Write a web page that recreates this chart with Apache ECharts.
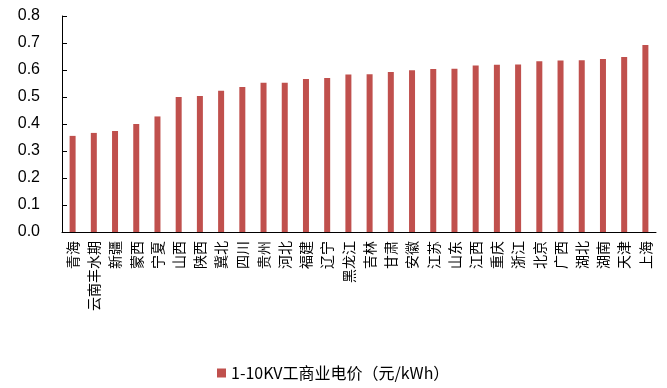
<!DOCTYPE html>
<html>
<head>
<meta charset="utf-8">
<script src="https://cdn.jsdelivr.net/npm/echarts@6/dist/echarts.min.js"></script>
<style>html,body{margin:0;padding:0;background:#fff}#c{width:667px;height:388px}</style>
</head>
<body>
<div id="c"></div>
<script>
var categories = ['青海','云南丰水期','新疆','蒙西','宁夏','山西','陕西','冀北','四川','贵州','河北','福建','辽宁','黑龙江','吉林','甘肃','安徽','江苏','山东','江西','重庆','浙江','北京','广西','湖北','湖南','天津','上海'];
var prices = [0.356,0.367,0.374,0.400,0.428,0.500,0.504,0.523,0.537,0.553,0.553,0.567,0.570,0.583,0.584,0.593,0.599,0.604,0.605,0.617,0.619,0.620,0.632,0.635,0.636,0.641,0.648,0.693];
var seriesName = '1-10KV工商业电价（元/kWh）';
var yTicks = [0,0.1,0.2,0.3,0.4,0.5,0.6,0.7,0.8];

var chart = echarts.init(document.getElementById('c'), null, {renderer:'canvas'});
chart.setOption({
  animation: false,
  backgroundColor: '#fff',
  grid: {left: 62, right: 11, top: 16, bottom: 156, containLabel: false},
  legend: {
    data: [seriesName], bottom: 2, left: 212,
    itemWidth: 9, itemHeight: 9, itemGap: 6, icon: 'rect',
    textStyle: {fontSize: 16, color: '#000', fontFamily: 'Noto Sans CJK SC'}
  },
  xAxis: {
    type: 'category', data: categories,
    axisLine: {lineStyle: {color: '#000', width: 1}},
    axisTick: {show: false},
    axisLabel: {rotate: 90, interval: 0, fontSize: 14, color: '#000', margin: 9, fontFamily: 'Noto Sans CJK SC'}
  },
  yAxis: {
    type: 'value', min: yTicks[0], max: yTicks[yTicks.length-1], interval: 0.1,
    splitLine: {show: false},
    axisLine: {show: true, lineStyle: {color: '#000', width: 1}},
    axisTick: {show: true, inside: true, length: 5, lineStyle: {color: '#000'}},
    axisLabel: {fontSize: 16, color: '#000', margin: 22, fontFamily: 'Liberation Sans, Arial', formatter: function(v){return v.toFixed(1);}}
  },
  series: [{
    name: seriesName, type: 'bar', data: prices, barWidth: 6,
    itemStyle: {color: '#C0504D'}
  }]
});
</script>
</body>
</html>
